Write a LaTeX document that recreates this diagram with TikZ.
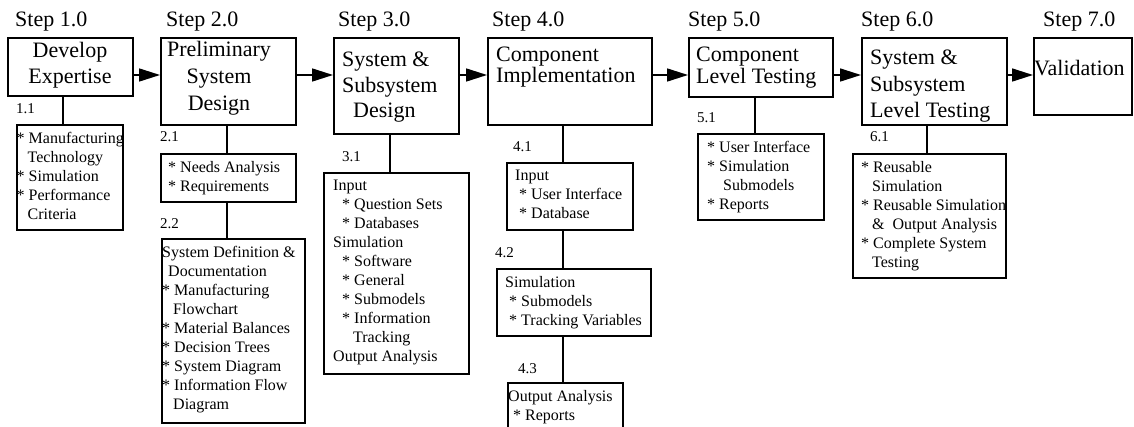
\documentclass[tikz,border=0pt]{standalone}
\usepackage{fontspec}
\setmainfont{Liberation Serif}
\usetikzlibrary{positioning,arrows.meta}
\newcommand{\itm}{{*}\ }
\newcommand{\cont}{\hspace*{11pt}}

\begin{document}
\begin{tikzpicture}[
  x=1pt, y=-1pt,
  >={Triangle[length=21pt,width=13pt]},
  stepbox/.style={draw, line width=1.6pt, inner sep=0pt, anchor=north west},
  subbox/.style={draw, line width=1.6pt, inner sep=0pt, anchor=north west},
  steplabel/.style={font=\fontsize{22}{26}\selectfont, inner sep=0pt, anchor=base west},
  steptext/.style={font=\fontsize{22}{#1}\selectfont, inner sep=0pt, align=left, anchor=north west},
  steptext/.default=26,
  subtext/.style={font=\fontsize{16}{19}\selectfont, inner sep=0pt, align=left, anchor=north west},
  subnum/.style={font=\fontsize{15}{18}\selectfont, inner sep=0pt, anchor=base west},
  link/.style={line width=1.6pt},
  flow/.style={line width=1.6pt, ->}
]
\useasboundingbox (0,0) rectangle (1134,427);

% --- Step headings ---
\node[steplabel] (l1) at (15,27) {Step 1.0};
\node[steplabel] (l2) at (166,27) {Step 2.0};
\node[steplabel] (l3) at (338,27) {Step 3.0};
\node[steplabel] (l4) at (492,27) {Step 4.0};
\node[steplabel] (l5) at (688,27) {Step 5.0};
\node[steplabel] (l6) at (861,27) {Step 6.0};
\node[steplabel] (l7) at (1043,27) {Step 7.0};

% --- Step boxes ---
\node[stepbox, minimum width=125pt, minimum height=58pt] (s1) at (7,37) {};
\node[stepbox, minimum width=135pt, minimum height=87pt] (s2) at (160,37) {};
\node[stepbox, minimum width=125pt, minimum height=96pt] (s3) at (333,37) {};
\node[stepbox, minimum width=164pt, minimum height=87pt] (s4) at (487,37) {};
\node[stepbox, minimum width=144pt, minimum height=59pt] (s5) at (688,37) {};
\node[stepbox, minimum width=145pt, minimum height=87pt] (s6) at (861,37) {};
\node[stepbox, minimum width=98pt, minimum height=77pt] (s7) at (1033,37) {};

\node[steptext=26, align=center, anchor=north] (t1) at (70,42) {Develop\\Expertise};
\node[steptext=27, align=center, anchor=north] (t2) at (219,41) {Preliminary\\System\\Design};
\node[steptext=25.5] (t3) at (342,52) {System \&\\Subsystem\\\hspace*{11pt}Design};
\node[steptext=21] (t4) at (496,47) {Component\\Implementation};
\node[steptext=22] (t5) at (696,47) {Component\\Level Testing};
\node[steptext=26.5] (t6) at (870,50) {System \&\\Subsystem\\Level Testing};
\node[steptext] (t7) at (1034,60) {Validation};

% --- Flow arrows ---
\coordinate (axis) at (0,75);
\draw[flow] (s1.east |- axis) -- (s2.west |- axis);
\draw[flow] (s2.east |- axis) -- (s3.west |- axis);
\draw[flow] (s3.east |- axis) -- (s4.west |- axis);
\draw[flow] (s4.east |- axis) -- (s5.west |- axis);
\draw[flow] (s5.east |- axis) -- (s6.west |- axis);
\draw[flow] (s6.east |- axis) -- (s7.west |- axis);

% --- Detail boxes ---
\node[subbox, minimum width=106pt, minimum height=105pt] (b11) at (16,124) {};
\node[subbox, minimum width=135pt, minimum height=48pt] (b21) at (160,153) {};
\node[subbox, minimum width=143pt, minimum height=184pt] (b22) at (161,238) {};
\node[subbox, minimum width=145pt, minimum height=201pt] (b31) at (323,172) {};
\node[subbox, minimum width=126pt, minimum height=67pt] (b41) at (506,162) {};
\node[subbox, minimum width=154pt, minimum height=67pt] (b42) at (496,268) {};
\node[subbox, minimum width=115pt, minimum height=60pt] (b43) at (507,382) {};
\node[subbox, minimum width=126pt, minimum height=86pt] (b51) at (697,133) {};
\node[subbox, minimum width=153pt, minimum height=124pt] (b61) at (852,153) {};

\node[subtext] (d11) at ([shift={(0.5,8)}]b11.north west)
  {\itm Manufacturing\\\cont Technology\\\itm Simulation\\\itm Performance\\\cont Criteria};
\node[subtext] (d21) at ([shift={(8,8)}]b21.north west)
  {\itm Needs Analysis\\\itm Requirements};
\node[subtext] (d22) at ([shift={(1,8)}]b22.north west)
  {System Definition \&\\\hspace*{6pt}Documentation\\\itm Manufacturing\\\cont Flowchart\\
   \itm Material Balances\\\itm Decision Trees\\\itm System Diagram\\\itm Information Flow\\\cont Diagram};
\node[subtext] (d31) at ([shift={(10,8)}]b31.north west)
  {Input\\\hspace*{9pt}\itm Question Sets\\\hspace*{9pt}\itm Databases\\Simulation\\
   \hspace*{9pt}\itm Software\\\hspace*{9pt}\itm General\\\hspace*{9pt}\itm Submodels\\
   \hspace*{9pt}\itm Information\\\hspace*{20pt}Tracking\\Output Analysis};
\node[subtext] (d41) at ([shift={(9,8)}]b41.north west)
  {Input\\\hspace*{4pt}\itm User Interface\\\hspace*{4pt}\itm Database};
\node[subtext] (d42) at ([shift={(9,8)}]b42.north west)
  {Simulation\\\hspace*{4pt}\itm Submodels\\\hspace*{4pt}\itm Tracking Variables};
\node[subtext] (d43) at ([shift={(1,8)}]b43.north west)
  {Output Analysis\\\hspace*{5pt}\itm Reports};
\node[subtext] (d51) at ([shift={(10,8)}]b51.north west)
  {\itm User Interface\\\itm Simulation\\\hspace*{16pt}Submodels\\\itm Reports};
\node[subtext] (d61) at ([shift={(9,8)}]b61.north west)
  {\itm Reusable\\\cont Simulation\\\itm Reusable Simulation\\\cont\&\ \ Output Analysis\\
   \itm Complete System\\\cont Testing};

% --- Detail numbers ---
\node[subnum] (n11) at (16,114) {1.1};
\node[subnum] (n21) at (160,142) {2.1};
\node[subnum] (n22) at (160,229) {2.2};
\node[subnum] (n31) at (342,162) {3.1};
\node[subnum] (n41) at (513,152) {4.1};
\node[subnum] (n42) at (495,258) {4.2};
\node[subnum] (n43) at (518,373) {4.3};
\node[subnum] (n51) at (697,123) {5.1};
\node[subnum] (n61) at (870,142) {6.1};

% --- Links to detail boxes ---
\coordinate (c1) at (63,0);
\coordinate (c2) at (227,0);
\coordinate (c3) at (390,0);
\coordinate (c4) at (563,0);
\coordinate (c5) at (755,0);
\coordinate (c6) at (927,0);
\draw[link] (s1.south -| c1) -- (b11.north -| c1);
\draw[link] (s2.south -| c2) -- (b21.north -| c2);
\draw[link] (b21.south -| c2) -- (b22.north -| c2);
\draw[link] (s3.south -| c3) -- (b31.north -| c3);
\draw[link] (s4.south -| c4) -- (b41.north -| c4);
\draw[link] (b41.south -| c4) -- (b42.north -| c4);
\draw[link] (b42.south -| c4) -- (b43.north -| c4);
\draw[link] (s5.south -| c5) -- (b51.north -| c5);
\draw[link] (s6.south -| c6) -- (b61.north -| c6);

\end{tikzpicture}
\end{document}
